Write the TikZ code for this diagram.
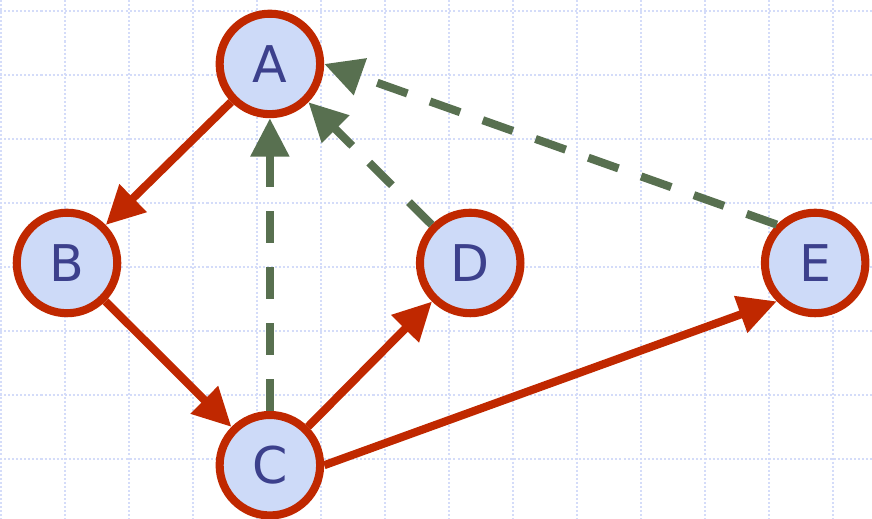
\documentclass[tikz,border=0pt]{standalone}
\usepackage{fontspec}
\setmainfont{DejaVu Sans}
\usetikzlibrary{positioning,arrows.meta}

\definecolor{gridblue}{RGB}{212,220,249}
\definecolor{ringred}{RGB}{192,40,0}
\definecolor{discblue}{RGB}{205,218,248}
\definecolor{letterblue}{RGB}{60,64,140}
\definecolor{backgreen}{RGB}{88,112,80}

\begin{document}
\begin{tikzpicture}[
    on grid,
    gridline/.style={gridblue, line width=0.9pt, dash pattern=on 0.9pt off 0.9pt},
    vertex/.style={circle, draw=ringred, fill=discblue, line width=3.6pt,
      minimum size=1.57cm, inner sep=0pt, text=letterblue,
      font=\fontsize{22.5}{26}\selectfont},
    tree/.style={ringred, line width=3.6pt, -{Triangle[length=0.6cm, width=0.58cm]}},
    back/.style={backgreen, line width=3.6pt, dash pattern=on 0.5cm off 0.375cm,
      -{Triangle[length=0.6cm, width=0.58cm]}}
  ]
      \useasboundingbox (0,0) rectangle (13.625,-8.109);
      % Grid
      \foreach \x in {0,...,13}
        \draw[gridline] (\x+0.016,0) -- (\x+0.016,-8.109);
      \foreach \y in {0,...,7}
        \draw[gridline] (0,-\y-0.172) -- (13.625,-\y-0.172);
      % Define nodes
      \node[vertex] (B) at (1.047,-4.109) {B};
      \node[vertex, above right=3.11cm and 3.17cm of B] (A) {A};
      \node[vertex, below right=3.16cm and 3.17cm of B] (C) {C};
      \node[vertex, right=6.3cm of B] (D) {D};
      \node[vertex, right=5.39cm of D] (E) {E};
      % Tree edges
      \draw[tree] (A) -- (B);
      \draw[tree] (B) -- (C);
      \draw[tree] (C) -- (D);
      \draw[tree] (C.east) -- (E.south west);
      % Back edges
      \draw[back] (C) -- (A);
      \draw[back] (D) -- (A);
      \draw[back] (E.north west) -- (A.east);
    \end{tikzpicture}
\end{document}
